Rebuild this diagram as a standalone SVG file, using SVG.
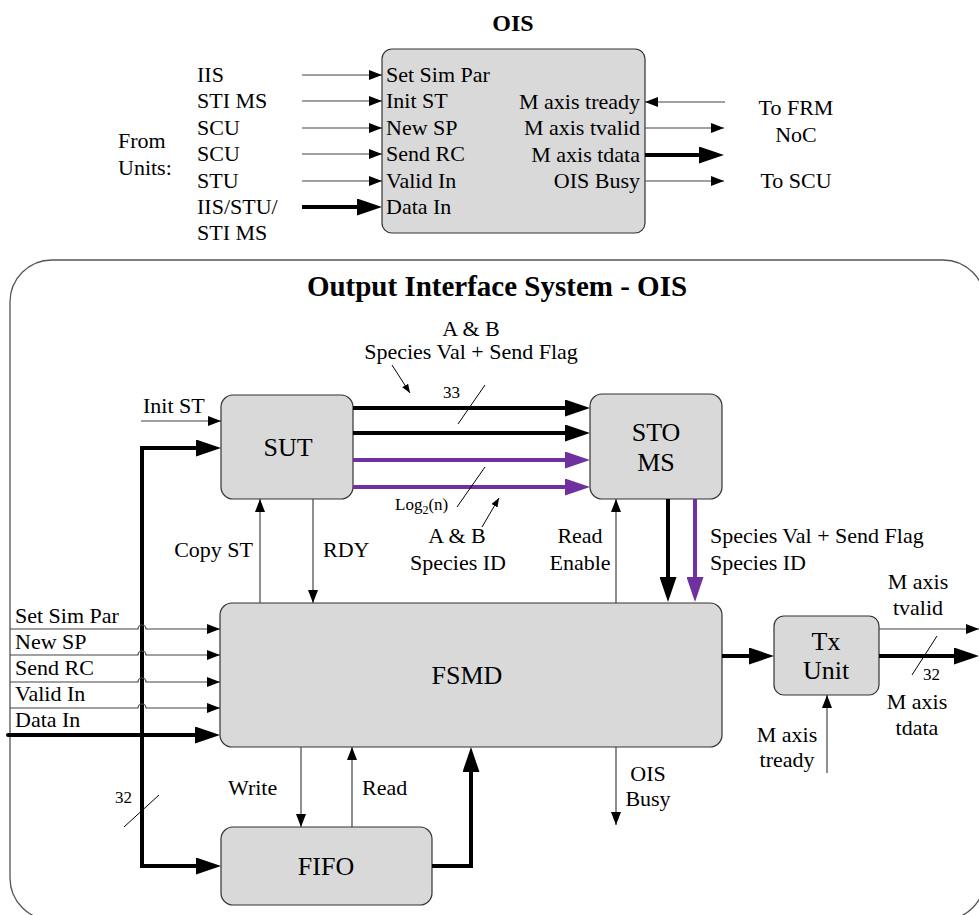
<svg xmlns="http://www.w3.org/2000/svg" width="979" height="915" viewBox="0 0 979 915">
<style>
text{font-family:"Liberation Serif","Times New Roman","DejaVu Serif",serif;font-size:22px;fill:#000}
.tb{font-weight:bold}
.t1{font-size:24px}
.t2{font-size:29px}
.blk{font-size:26px}
.sm{font-size:17px}
.sub{font-size:12px}
.mid{text-anchor:middle}
.end{text-anchor:end}
.box{fill:#d9d9d9;stroke:#333;stroke-width:1.2}
.thin{fill:none;stroke:#444;stroke-width:1.2}
.thick{fill:none;stroke:#000;stroke-width:4}
.pur{fill:none;stroke:#7030a0;stroke-width:4}
.ann{fill:none;stroke:#000;stroke-width:1}
</style>
<defs>
<marker id="ah" markerUnits="userSpaceOnUse" markerWidth="13" markerHeight="10" refX="13" refY="5" orient="auto"><path d="M0,0 L13,5 L0,10 z" fill="#000"/></marker>
<marker id="sa" markerUnits="userSpaceOnUse" markerWidth="9" markerHeight="7" refX="9" refY="3.5" orient="auto"><path d="M0,0 L9,3.5 L0,7 z" fill="#000"/></marker>
<marker id="AH" markerUnits="userSpaceOnUse" markerWidth="25" markerHeight="17" refX="17" refY="8.5" orient="auto"><path d="M0,0 L25,8.5 L0,17 z" fill="#000"/></marker>
<marker id="AHP" markerUnits="userSpaceOnUse" markerWidth="25" markerHeight="17" refX="17" refY="8.5" orient="auto"><path d="M0,0 L25,8.5 L0,17 z" fill="#7030a0"/></marker>
</defs>

<!-- Top interface block -->
<text x="513" y="31" class="tb t1 mid">OIS</text>
<g id="ois-top">
<rect x="382" y="49" width="263" height="184" rx="10" class="box"/>
<text x="386" y="82">Set Sim Par</text>
<text x="386" y="108">Init ST</text>
<text x="386" y="135">New SP</text>
<text x="386" y="161">Send RC</text>
<text x="386" y="188">Valid In</text>
<text x="386" y="214">Data In</text>
<text x="640" y="109" class="end">M axis tready</text>
<text x="640" y="135" class="end">M axis tvalid</text>
<text x="640" y="162" class="end">M axis tdata</text>
<text x="640" y="188" class="end">OIS Busy</text>
</g>
<g id="top-labels">
<text x="118" y="148">From</text>
<text x="118" y="175">Units:</text>
<text x="197" y="82">IIS</text>
<text x="197" y="108">STI MS</text>
<text x="197" y="135">SCU</text>
<text x="197" y="161">SCU</text>
<text x="197" y="188">STU</text>
<text x="197" y="214">IIS/STU/</text>
<text x="197" y="240">STI MS</text>
<text x="796" y="115" class="mid">To FRM</text>
<text x="796" y="142" class="mid">NoC</text>
<text x="796" y="188" class="mid">To SCU</text>
</g>

<!-- Outer system -->
<rect id="system" x="10" y="260" width="975" height="660" rx="42" fill="none" stroke="#555" stroke-width="1.3"/>
<text x="497" y="296" class="tb t2 mid">Output Interface System - OIS</text>

<g id="SUT"><rect x="221" y="395" width="132" height="104" rx="12" class="box"/><text x="288" y="456" class="blk mid">SUT</text></g>
<g id="STO"><rect x="590" y="394" width="132" height="105" rx="12" class="box"/><text x="656" y="441" class="blk mid">STO</text><text x="656" y="471" class="blk mid">MS</text></g>
<g id="FSMD"><rect x="220" y="603" width="502" height="144" rx="12" class="box"/><text x="467" y="684" class="blk mid">FSMD</text></g>
<g id="FIFO"><rect x="221" y="827" width="211" height="78" rx="12" class="box"/><text x="326" y="875" class="blk mid">FIFO</text></g>
<g id="TX"><rect x="774" y="616" width="105" height="79" rx="10" class="box"/><text x="826" y="650" class="blk mid">Tx</text><text x="826" y="679" class="blk mid">Unit</text></g>

<g id="connectors">
<!-- top block -->
<path d="M302,75 H382" class="thin" marker-end="url(#ah)"/>
<path d="M302,101 H382" class="thin" marker-end="url(#ah)"/>
<path d="M302,128 H382" class="thin" marker-end="url(#ah)"/>
<path d="M302,154 H382" class="thin" marker-end="url(#ah)"/>
<path d="M302,181 H382" class="thin" marker-end="url(#ah)"/>
<path d="M302,207 H374" class="thick" marker-end="url(#AH)"/>
<path d="M725,102 H645" class="thin" marker-end="url(#ah)"/>
<path d="M645,128 H724" class="thin" marker-end="url(#ah)"/>
<path d="M645,155 H716" class="thick" marker-end="url(#AH)"/>
<path d="M645,181 H724" class="thin" marker-end="url(#ah)"/>

<!-- SUT to STO -->
<path d="M353,408 H582" class="thick" marker-end="url(#AH)"/>
<path d="M353,433 H582" class="thick" marker-end="url(#AH)"/>
<path d="M353,460 H582" class="pur" marker-end="url(#AHP)"/>
<path d="M353,487 H582" class="pur" marker-end="url(#AHP)"/>
<path d="M485,385 L458,424" class="ann"/>
<path d="M485,467 L457,507" class="ann"/>
<path d="M392,365 L410,393" class="ann" marker-end="url(#sa)"/>
<path d="M482,527 L499,498" class="ann" marker-end="url(#sa)"/>

<!-- Init ST -->
<path d="M141,421 H221" class="thin" marker-end="url(#ah)"/>
<!-- Data In bus -->
<path d="M142,735 V448 H213" class="thick" marker-end="url(#AH)"/>
<path d="M142,735 V866 H213" class="thick" marker-end="url(#AH)"/>
<path d="M8,735 H212" class="thick" stroke-linecap="round" marker-end="url(#AH)"/>
<path d="M159,795 L124,827" class="ann"/>
<!-- other inputs with hops -->
<path d="M10,629 H138 a4,4 0 0 1 8,0 H220" class="thin" marker-end="url(#ah)"/>
<path d="M10,655 H138 a4,4 0 0 1 8,0 H220" class="thin" marker-end="url(#ah)"/>
<path d="M10,682 H138 a4,4 0 0 1 8,0 H220" class="thin" marker-end="url(#ah)"/>
<path d="M10,708 H138 a4,4 0 0 1 8,0 H220" class="thin" marker-end="url(#ah)"/>

<!-- SUT/FSMD -->
<path d="M260,603 V499" class="thin" marker-end="url(#ah)"/>
<path d="M313,499 V603" class="thin" marker-end="url(#ah)"/>
<!-- STO/FSMD -->
<path d="M616,603 V499" class="thin" marker-end="url(#ah)"/>
<path d="M668,499 V594" class="thick" marker-end="url(#AH)"/>
<path d="M695,499 V594" class="pur" marker-end="url(#AHP)"/>
<!-- FIFO -->
<path d="M301,747 V827" class="thin" marker-end="url(#ah)"/>
<path d="M352,827 V747" class="thin" marker-end="url(#ah)"/>
<path d="M432,866 H471 V755" class="thick" marker-end="url(#AH)"/>
<!-- OIS Busy -->
<path d="M616,747 V825" class="thin" marker-end="url(#ah)"/>
<!-- Tx -->
<path d="M722,656 H766" class="thick" marker-end="url(#AH)"/>
<path d="M879,629 H979" class="thin" marker-end="url(#ah)"/>
<path d="M879,656 H971" class="thick" marker-end="url(#AH)"/>
<path d="M937,636 L912,675" class="ann"/>
<path d="M827,773 V695" class="thin" marker-end="url(#ah)"/>
</g>

<g id="labels">
<text x="471" y="336" class="mid">A &amp; B</text>
<text x="471" y="359" class="mid">Species Val + Send Flag</text>
<text x="443" y="398" class="sm">33</text>
<text x="395" y="510" class="sm">Log<tspan class="sub" dy="4">2</tspan><tspan dy="-4">(n)</tspan></text>
<text x="457" y="543" class="mid">A &amp; B</text>
<text x="458" y="570" class="mid">Species ID</text>
<text x="143" y="413">Init ST</text>
<text x="253" y="557" class="end">Copy ST</text>
<text x="323" y="557">RDY</text>
<text x="580" y="543" class="mid">Read</text>
<text x="580" y="570" class="mid">Enable</text>
<text x="710" y="543">Species Val + Send Flag</text>
<text x="710" y="570">Species ID</text>
<text x="15" y="623">Set Sim Par</text>
<text x="15" y="649">New SP</text>
<text x="15" y="675">Send RC</text>
<text x="15" y="701">Valid In</text>
<text x="15" y="727">Data In</text>
<text x="115" y="803" class="sm">32</text>
<text x="228" y="795">Write</text>
<text x="362" y="795">Read</text>
<text x="648" y="781" class="mid">OIS</text>
<text x="648" y="806" class="mid">Busy</text>
<text x="918" y="589" class="mid">M axis</text>
<text x="918" y="615" class="mid">tvalid</text>
<text x="923" y="680" class="sm">32</text>
<text x="917" y="709" class="mid">M axis</text>
<text x="917" y="735" class="mid">tdata</text>
<text x="787" y="742" class="mid">M axis</text>
<text x="787" y="767" class="mid">tready</text>
</g>
</svg>
